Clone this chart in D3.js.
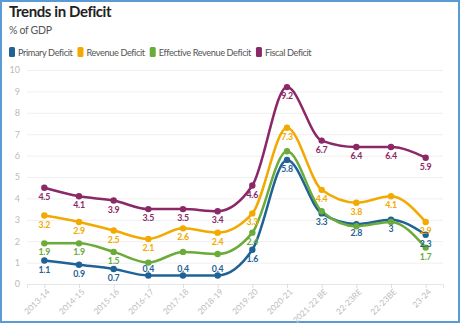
<!DOCTYPE html>
<html><head><meta charset="utf-8">
<script src="https://cdn.jsdelivr.net/npm/d3@7"></script>
<style>
html,body{margin:0;padding:0;background:#fff;}
#frame{position:absolute;left:0;top:0;width:456px;height:319px;border:2px solid #5b9bd5;}
svg{position:absolute;left:0;top:0;}
text{font-family:Lato,"Open Sans",sans-serif;}
</style></head><body>
<div id="frame"></div>
<svg id="chart" width="460" height="324"></svg>
<script>
const categories = ["2013-14","2014-15","2015-16","2016-17","2017-18","2018-19","2019-20","2020-21","2021-22 BE","22-23RE","22-23BE","23-24"];
const primaryDeficit = [1.1,0.9,0.7,0.4,0.4,0.4,1.6,5.8,3.3,2.8,3.0,2.3];
const revenueDeficit = [3.2,2.9,2.5,2.1,2.6,2.4,3.3,7.3,4.4,3.8,4.1,2.9];
const effectiveRevenueDeficit = [1.9,1.9,1.5,1.0,1.5,1.4,2.4,6.2,3.4,2.7,2.9,1.7];
const fiscalDeficit = [4.5,4.1,3.9,3.5,3.5,3.4,4.6,9.2,6.7,6.4,6.4,5.9];
const yTicks = [0,1,2,3,4,5,6,7,8,9,10];
const seriesNames = ["Primary Deficit","Revenue Deficit","Effective Revenue Deficit","Fiscal Deficit"];
const seriesColors = ["#1f6296","#f2a900","#6aab3a","#8b2867"];

const series = [
  {name:seriesNames[0], color:seriesColors[0], values:primaryDeficit},
  {name:seriesNames[1], color:seriesColors[1], values:revenueDeficit},
  {name:seriesNames[2], color:seriesColors[2], values:effectiveRevenueDeficit},
  {name:seriesNames[3], color:seriesColors[3], values:fiscalDeficit}
];

const svg = d3.select("#chart");
const mLeft = 27, mRight = 443, mTop = 70, mBottom = 284;
const x = d3.scalePoint().domain(categories).range([mLeft, mRight]).padding(0.5);
const y = d3.scaleLinear().domain([0,10]).range([mBottom, mTop]);

// title
svg.append("text").attr("x",9).attr("y",17).attr("font-size",15).attr("font-weight",700).attr("fill","#222")
  .attr("letter-spacing",-0.4).text("Trends in Deficit");
svg.append("text").attr("x",9).attr("y",34).attr("font-size",10.5).attr("fill","#555")
  .attr("letter-spacing",-0.3).text("% of GDP");

// legend
let lx = 9;
series.forEach(s=>{
  svg.append("rect").attr("x",lx).attr("y",47).attr("width",6).attr("height",10).attr("rx",1.5).attr("fill",s.color);
  const t = svg.append("text").attr("x",lx+9).attr("y",55.5).attr("font-size",9.2).attr("fill","#555")
    .attr("letter-spacing",-0.4).text(s.name);
  lx += 9 + t.node().getBBox().width + 4;
});

// grid
const yAxis = d3.axisLeft(y).tickValues(yTicks).tickSize(-(mRight-mLeft)).tickFormat(d3.format("d"));
const gy = svg.append("g").attr("transform",`translate(${mLeft},0)`).call(yAxis);
gy.select(".domain").remove();
gy.selectAll(".tick line").attr("stroke","#efefef").attr("stroke-width",1);
gy.selectAll(".tick text").attr("fill","#bbb").attr("font-size",9).attr("x",-7).style("font-family","Lato,sans-serif");

// x axis
const xAxis = d3.axisBottom(x).tickSize(4).tickPadding(3);
const gx = svg.append("g").attr("transform",`translate(0,${mBottom})`).call(xAxis);
gx.select(".domain").attr("stroke","#e6e6e6");
gx.selectAll(".tick line").attr("stroke","#dddddd");
gx.selectAll(".tick text").attr("fill","#bbb").attr("font-size",8.3).style("font-family","Lato,sans-serif")
  .attr("text-anchor","end").attr("x",-2).attr("y",7).attr("dy","0.35em").attr("transform","rotate(-45)");

// lines
const line = d3.line().x((d,i)=>x(categories[i])).y(d=>y(d)).curve(d3.curveMonotoneX);
series.forEach(s=>{
  svg.append("path").datum(s.values).attr("d",line).attr("fill","none").attr("stroke",s.color).attr("stroke-width",2.5).attr("stroke-linejoin","round");
});
series.forEach(s=>{
  svg.append("g").selectAll("circle").data(s.values).join("circle")
    .attr("cx",(d,i)=>x(categories[i])).attr("cy",d=>y(d)).attr("r",3.2).attr("fill",s.color);
});

// labels with collision avoidance; priority order
const order = [3,1,0,2];
const placed = [];
const lblH = 9;
order.forEach(si=>{
  const s = series[si];
  s.values.forEach((v,i)=>{
    const cx = x(categories[i]);
    let cy = y(v) + 9;
    if (cy + lblH/2 > mBottom) cy = y(v) - 7;
    const txt = String(v===Math.round(v)?v:v.toFixed(1));
    const w = txt.length*4.6;
    const box = {x0:cx-w/2, x1:cx+w/2, y0:cy-lblH/2, y1:cy+lblH/2};
    const hit = placed.some(b=>box.x0<b.x1 && box.x1>b.x0 && box.y0<b.y1 && box.y1>b.y0);
    if (hit) return;
    placed.push(box);
    svg.append("text").attr("x",cx).attr("y",cy).attr("dy","0.35em").attr("text-anchor","middle")
      .attr("font-size",8.8).attr("font-weight",700).attr("fill",s.color).attr("letter-spacing",-0.2).text(txt);
  });
});
</script>
</body></html>
